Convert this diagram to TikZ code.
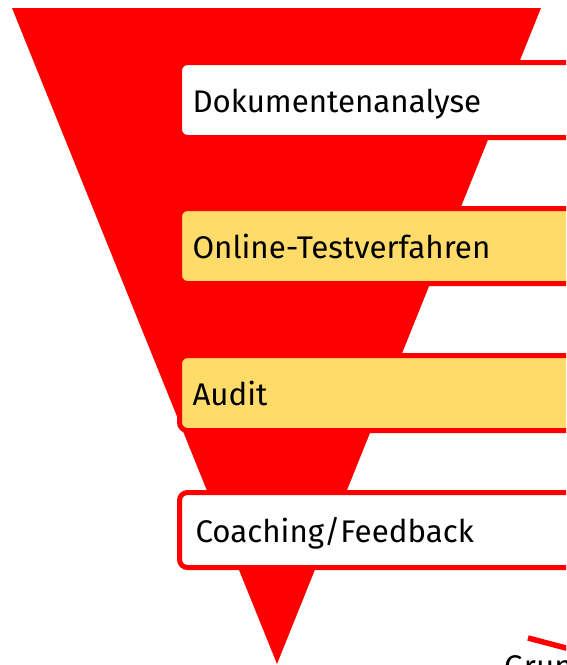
\documentclass[tikz,border=0pt]{standalone}
\usepackage{fontspec}
\setmainfont{Fira Sans}
\definecolor{tri}{HTML}{FF0000}
\definecolor{pale}{HTML}{FFDC69}
\begin{document}
\begin{tikzpicture}[x=1pt,y=-1pt,
  stage/.style={draw=tri, line width=5pt, rounded corners=8pt, anchor=north west, outer sep=0pt,
    minimum height=75pt, text width=400pt, align=left, inner xsep=13pt,
    text height=24pt, text depth=0pt, font=\fontsize{31.3}{37}\selectfont, text=black},
  lbl/.style={font=\fontsize{31.3}{37}\selectfont, text=black, anchor=base west, inner sep=0pt}]
\useasboundingbox (0,0) rectangle (566,665);
\clip (0,0) rectangle (566,665);
\fill[tri] (12,8) -- (541,8) -- (277,664) -- cycle;
\node[stage, fill=white] (n1) at (179.5,62.5) {Dokumentenanalyse};
\node[stage, fill=pale] (n2) at (179.5,208.5) {Online-Testverfahren};
\node[stage, fill=pale] (n3) at (179.5,355.5) {Audit};
\node[stage, fill=white] (n4) at (179.5,492.5) {\hspace*{3pt}Coaching/Feedback};
\coordinate (l1) at (528,638);
\coordinate (l2) at (604,658);
\draw[tri, line width=5.5pt] (l1) -- (l2);
\node[lbl] (g) at (504,677) {Grun};
\end{tikzpicture}
\end{document}
